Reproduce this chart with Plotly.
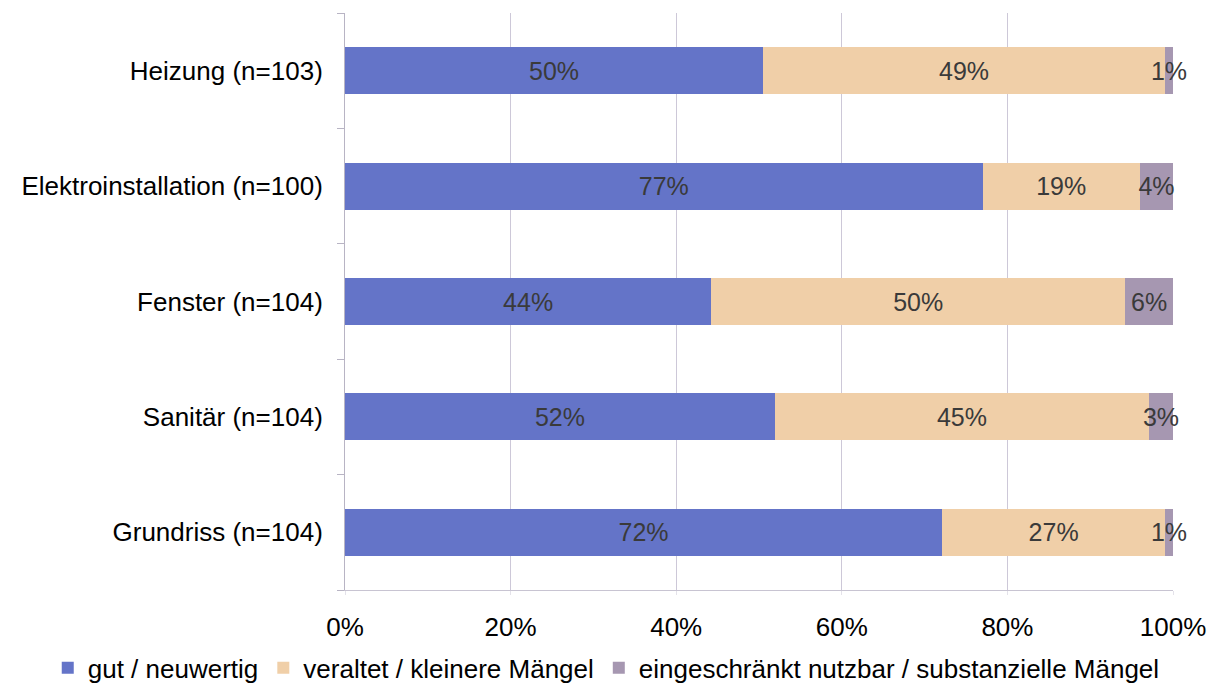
import plotly.graph_objects as go

categories = ["Heizung (n=103)", "Elektroinstallation (n=100)", "Fenster (n=104)",
              "Sanitär (n=104)", "Grundriss (n=104)"]
series_names = ["gut / neuwertig", "veraltet / kleinere Mängel",
                "eingeschränkt nutzbar / substanzielle Mängel"]
gut = [50.49, 77.0, 44.23, 51.92, 72.12]
veraltet = [48.54, 19.0, 50.00, 45.19, 26.92]
eingeschraenkt = [0.97, 4.0, 5.77, 2.88, 0.96]
x_ticks = [0, 20, 40, 60, 80, 100]
x_tick_labels = ["0%", "20%", "40%", "60%", "80%", "100%"]

colors = ["#6474c8", "#f0cfa8", "#a697b1"]
FONT = "Liberation Sans, Arial, sans-serif"

fig = go.Figure()
for name, vals, col in zip(series_names, [gut, veraltet, eingeschraenkt], colors):
    fig.add_trace(go.Bar(
        y=categories, x=vals, name=name, orientation="h",
        marker=dict(color=col, line=dict(width=0)),
        text=vals, texttemplate="%{x:.0f}%", textposition="inside",
        insidetextanchor="middle", textangle=0, constraintext="none",
        textfont=dict(family=FONT, size=25, color="#3a3a3a"),
        cliponaxis=False,
    ))

fig.update_layout(
    barmode="stack",
    bargap=0.593,
    width=1214, height=684,
    margin=dict(l=345, r=41, t=13, b=94, autoexpand=False),
    paper_bgcolor="white", plot_bgcolor="white",
    font=dict(family=FONT, size=26, color="black"),
    legend=dict(orientation="h", x=-0.359, xanchor="left",
                y=-0.094, yanchor="top",
                traceorder="normal",
                font=dict(size=26), itemwidth=30, tracegroupgap=0),
    xaxis=dict(range=[0, 100], tickvals=x_ticks, ticktext=x_tick_labels,
               showgrid=True, gridcolor="#cdc8d8", gridwidth=1,
               showline=True, linecolor="#c8c4d2", linewidth=1,
               ticks="outside", tickcolor="#e4e2ea", ticklen=4,
               ticklabelstandoff=10,
               zeroline=False, tickfont=dict(size=26)),
    yaxis=dict(categoryorder="array", categoryarray=categories[::-1],
               showline=True, linecolor="#b8b4c4", linewidth=1,
               ticks="outside", tickson="boundaries", ticklen=7, tickcolor="#b8b4c4",
               ticklabelstandoff=16, showgrid=False, tickfont=dict(size=26)),
)

fig.write_html("out.html")
